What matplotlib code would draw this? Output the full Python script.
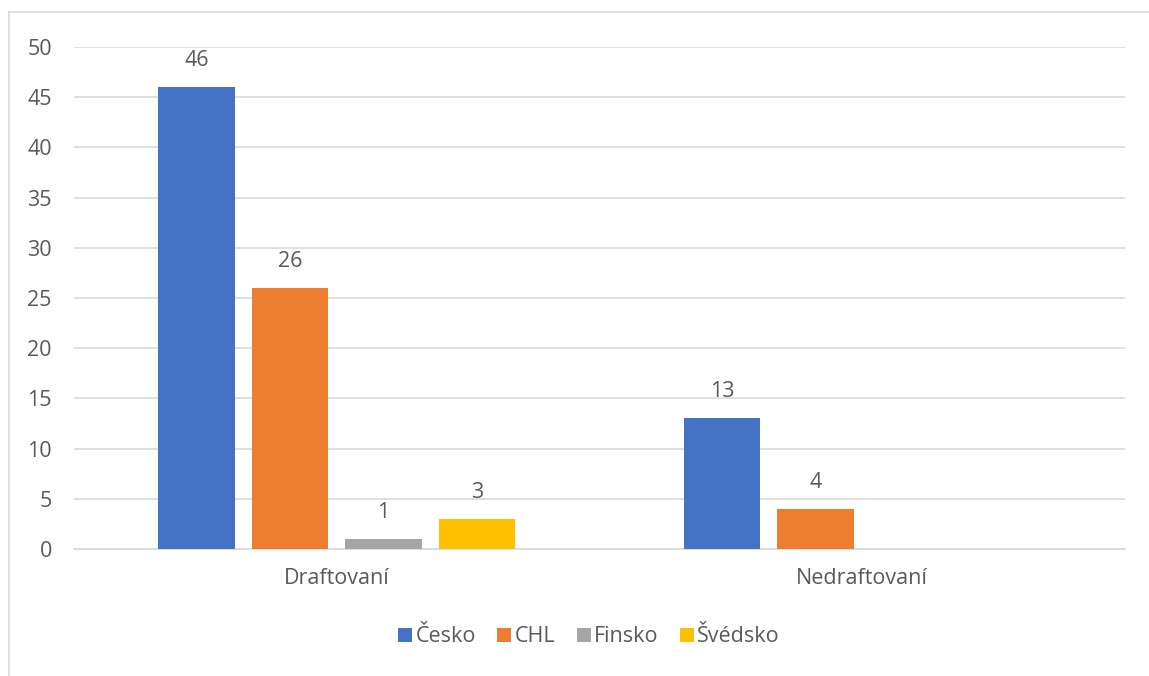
import matplotlib.pyplot as plt
import numpy as np
from matplotlib.lines import Line2D

categories = ['Draftovaní', 'Nedraftovaní']
series = ['Česko', 'CHL', 'Finsko', 'Švédsko']
values = {
    'Česko': [46, 13],
    'CHL': [26, 4],
    'Finsko': [1, 0],
    'Švédsko': [3, 0],
}
colors = ['#4472C4', '#ED7D31', '#A5A5A5', '#FFC000']

plt.rcParams['font.family'] = ['Open Sans', 'DejaVu Sans']
text_col = '#595959'
fs = 15.5

fig = plt.figure(figsize=(11.49, 6.76), dpi=100)
ax = fig.add_axes([74 / 1149, 127 / 676, (1125 - 74) / 1149, (549 - 47) / 676])

x = np.arange(len(categories))
pitch = 0.178
width = 0.145
for i, (name, col) in enumerate(zip(series, colors)):
    vals = values[name]
    pos = x + (i - 1.5) * pitch
    bars = ax.bar(pos, vals, width=width, color=col, label=name, zorder=3)
    for b, v in zip(bars, vals):
        if v > 0:
            ax.text(b.get_x() + b.get_width() / 2, v + 1.6, str(v), ha='center', va='bottom',
                    fontsize=fs, color=text_col)

ax.set_xlim(-0.5, 1.5)
ax.set_ylim(0, 50)
ax.set_yticks(range(0, 51, 5))
ax.set_xticks(x)
ax.set_xticklabels(categories)
ax.grid(axis='y', color='#D9D9D9', linewidth=1.2, zorder=0)
for s in ['top', 'right', 'left']:
    ax.spines[s].set_visible(False)
ax.spines['bottom'].set_color('#D9D9D9')
ax.spines['bottom'].set_linewidth(1.2)
ax.tick_params(axis='both', length=0, labelsize=fs, labelcolor=text_col)
ax.tick_params(axis='x', pad=14)
ax.tick_params(axis='y', pad=16)

leg = fig.legend(loc='center', bbox_to_anchor=(589 / 1149, 1 - 637 / 676), ncol=4,
                 frameon=False, fontsize=fs, handlelength=0.65, handleheight=0.65,
                 handletextpad=0.15, columnspacing=1.0)
for t in leg.get_texts():
    t.set_color(text_col)

# chart border (left and top edges visible)
fig.add_artist(Line2D([8.5 / 1149, 8.5 / 1149], [0, 1 - 12 / 676], color='#D9D9D9', linewidth=1.2))
fig.add_artist(Line2D([8.5 / 1149, 1], [1 - 12 / 676, 1 - 12 / 676], color='#D9D9D9', linewidth=1.2))

fig.savefig('out.png', dpi=100)
